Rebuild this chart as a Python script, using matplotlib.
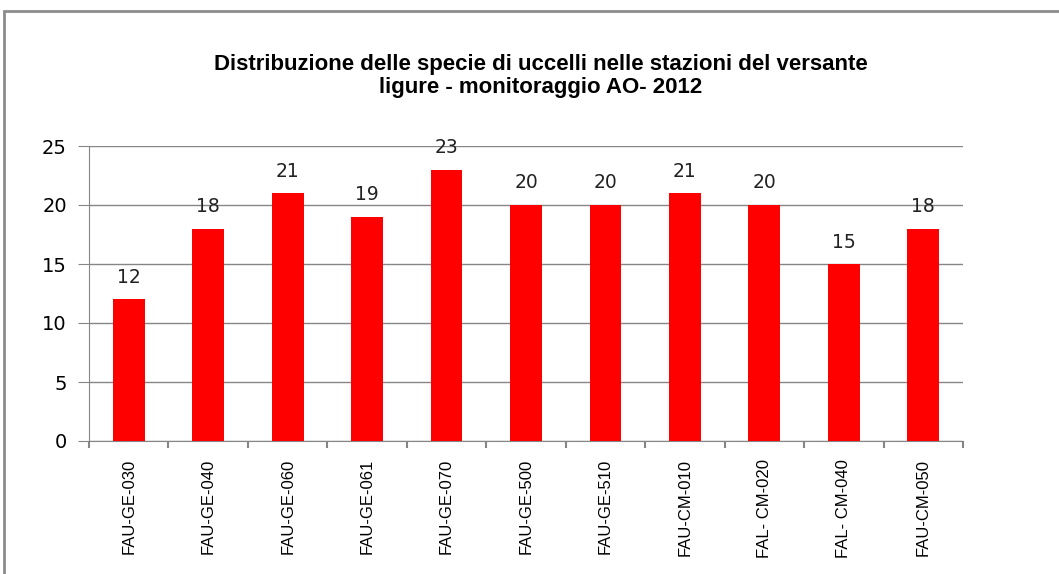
import matplotlib.pyplot as plt
from matplotlib.patches import Rectangle

stazioni = ['FAU-GE-030', 'FAU-GE-040', 'FAU-GE-060', 'FAU-GE-061', 'FAU-GE-070',
            'FAU-GE-500', 'FAU-GE-510', 'FAU-CM-010', 'FAL- CM-020', 'FAL- CM-040',
            'FAU-CM-050']
specie = [12, 18, 21, 19, 23, 20, 20, 21, 20, 15, 18]

grigio = '#868686'

fig = plt.figure(figsize=(10.59, 5.74), dpi=100)
# cornice del grafico
fig.patches.append(Rectangle((4 / 1059, -0.1), 1.2, 1 - 11 / 574 + 0.1,
                             transform=fig.transFigure, fill=False,
                             edgecolor='#8c8c8c', linewidth=2))

ax = fig.add_axes([89 / 1059, 1 - 441 / 574, 874 / 1059, 295 / 574])
x = list(range(len(specie)))
ax.bar(x, specie, width=0.4, color='#ff0000', zorder=3)
for i, v in zip(x, specie):
    ax.annotate(str(v), (i, v), xytext=(0, 9), textcoords='offset points',
                ha='center', va='bottom', fontsize=13.5, family='DejaVu Sans',
                color='#222222')

ax.set_xlim(-0.5, len(specie) - 0.5)
ax.set_ylim(0, 25)
ax.set_yticks([0, 5, 10, 15, 20, 25])
ax.yaxis.grid(True, color=grigio, linewidth=1)
ax.set_axisbelow(True)
for s in ['top', 'right']:
    ax.spines[s].set_visible(False)
for s in ['left', 'bottom']:
    ax.spines[s].set_color(grigio)
ax.tick_params(axis='y', length=8, color=grigio, labelsize=14, pad=8)
for t in ax.get_yticklabels():
    t.set_family('DejaVu Sans')

ax.set_xticks(x)
ax.set_xticklabels(stazioni, rotation=90, fontsize=12, family='Liberation Sans')
ax.tick_params(axis='x', length=0, pad=13)
ax.set_xticks([i - 0.5 for i in range(len(specie) + 1)], minor=True)
ax.tick_params(axis='x', which='minor', length=5, color=grigio, width=1.5)

fig.text(541 / 1059, 1 - 76 / 574,
         'Distribuzione delle specie di uccelli nelle stazioni del versante\nligure - monitoraggio AO- 2012',
         ha='center', va='center', fontsize=16, fontweight='bold',
         family='Liberation Sans', linespacing=1.1)

fig.savefig('out.png', dpi=100)
